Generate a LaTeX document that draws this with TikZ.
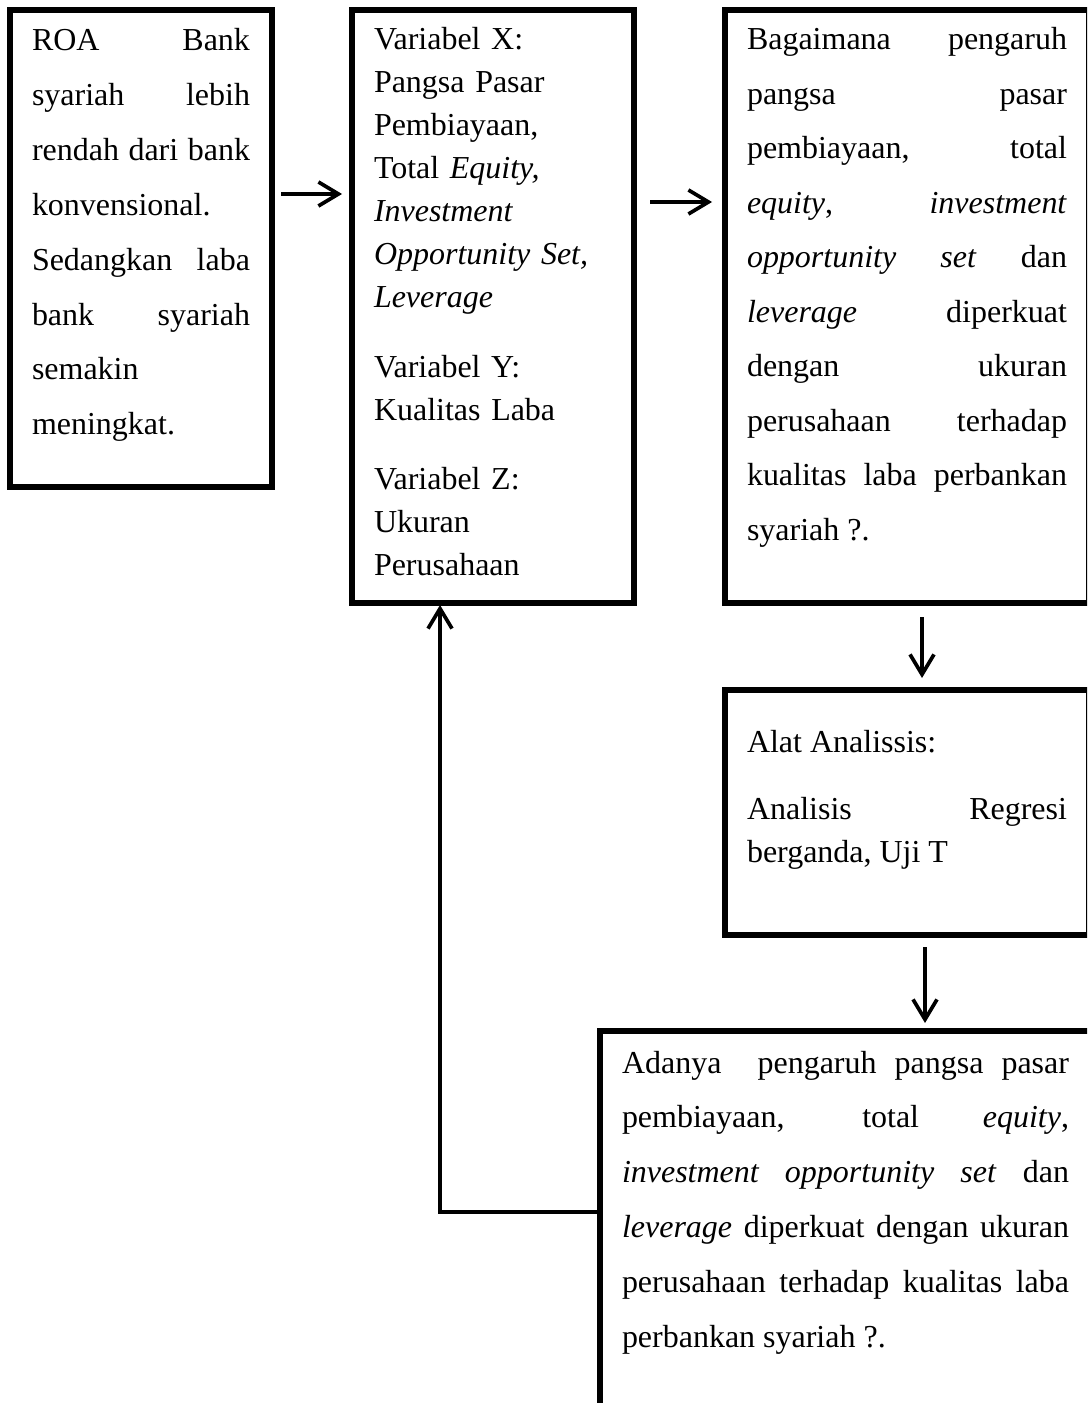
\documentclass[tikz,border=0pt]{standalone}
\usepackage{fontspec}
\setmainfont{Liberation Serif}
\usetikzlibrary{arrows.meta}

\begin{document}
\begin{tikzpicture}[
            box/.style={draw, line width=1.6pt, anchor=north west, inner xsep=0.22cm, inner ysep=0pt, outer sep=0pt, align=justify},
            wide/.style={font=\fontsize{9.1}{15.6}\selectfont},
            tight/.style={font=\fontsize{9.1}{12.2}\selectfont},
            arrow/.style={-{Straight Barb[length=0.2cm, width=0.24cm]}, line width=1.05pt}
        ]
            \path[use as bounding box] (0,0) rectangle (10.87,-14.03);
            \clip (0,0) rectangle (10.87,-14.03);

            % Boxes
            \node[box, wide, text width=2.18cm, text height=0.41cm, text depth=4.36cm] (masalah) at (0.10,-0.10)
                {ROA Bank\linebreak syariah lebih\linebreak rendah dari bank\linebreak konvensional.\newline Sedangkan laba\linebreak bank syariah\linebreak semakin\newline meningkat.};
            \node[box, tight, align=left, text width=2.38cm, text height=0.40cm, text depth=5.53cm] (variabel) at (3.52,-0.10)
                {Variabel X:\\ Pangsa Pasar\\ Pembiayaan,\\ Total \textit{Equity,}\\ \textit{Investment}\\ \textit{Opportunity Set,}\\ \textit{Leverage}\\[0.27cm]
                 Variabel Y:\\ Kualitas Laba\\[0.27cm]
                 Variabel Z:\\ Ukuran\\ Perusahaan};
            \node[box, font=\fontsize{9.1}{15.5}\selectfont, text width=3.20cm, text height=0.40cm, text depth=5.53cm] (rumusan) at (7.25,-0.10)
                {Bagaimana pengaruh\linebreak pangsa pasar\linebreak pembiayaan, total\linebreak \textit{equity}, \textit{investment}\linebreak
                 \textit{opportunity} \textit{set} dan\linebreak \textit{leverage} diperkuat\linebreak dengan ukuran\linebreak perusahaan terhadap\linebreak
                 kualitas laba perbankan\linebreak syariah ?.};
            \node[box, tight, text width=3.20cm, text height=0.62cm, text depth=1.83cm] (alat) at (7.25,-6.90)
                {Alat Analissis:\\[0.25cm] Analisis Regresi\linebreak berganda, Uji T};
            \node[box, wide, text width=4.47cm, text height=0.42cm, text depth=5.00cm] (hasil) at (6.00,-10.31)
                {Adanya\ \ pengaruh pangsa pasar\linebreak pembiayaan, total \textit{equity},\linebreak \textit{investment opportunity set} dan\linebreak
                 \textit{leverage} diperkuat dengan ukuran\linebreak perusahaan terhadap kualitas laba\linebreak perbankan syariah ?.};

            % Arrows
            \draw[arrow] ([xshift=0.09cm, yshift=-1.84cm]masalah.north east) -- ([xshift=-0.10cm, yshift=-1.84cm]variabel.north west);
            \draw[arrow] ([xshift=0.16cm, yshift=-1.92cm]variabel.north east) -- ([xshift=-0.13cm, yshift=-1.92cm]rumusan.north west);
            \draw[arrow] ([xshift=1.97cm, yshift=-0.14cm]rumusan.south west) -- ([xshift=1.97cm, yshift=0.12cm]alat.north west);
            \draw[arrow] ([xshift=2.00cm, yshift=-0.12cm]alat.south west) -- ([xshift=3.25cm, yshift=0.08cm]hasil.north west);

            % Feedback
            \draw[arrow] ([yshift=-1.81cm]hasil.north west) -| ([xshift=0.88cm, yshift=-0.02cm]variabel.south west);
        \end{tikzpicture}
\end{document}
